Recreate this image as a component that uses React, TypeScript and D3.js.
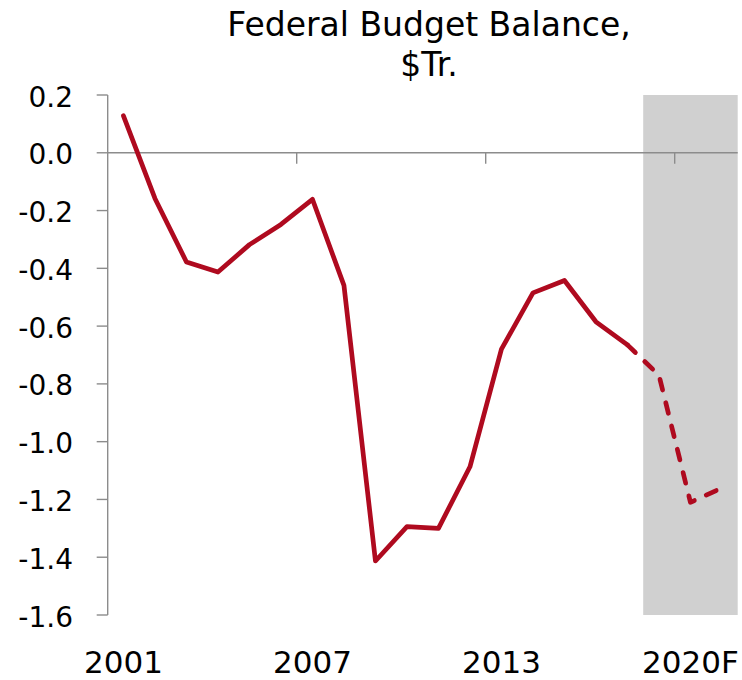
import React from "react";
import * as d3 from "d3";

const categories = [
  "2001", "2002", "2003", "2004", "2005", "2006", "2007", "2008", "2009", "2010",
  "2011", "2012", "2013", "2014", "2015", "2016", "2017", "2018", "2020F", "2021F",
];
const actual: (number | null)[] = [
  0.128, -0.158, -0.378, -0.413, -0.318, -0.248, -0.161, -0.459, -1.413, -1.294,
  -1.3, -1.087, -0.68, -0.485, -0.442, -0.585, -0.665, null, null, null,
];
const forecast: (number | null)[] = [
  null, null, null, null, null, null, null, null, null, null,
  null, null, null, null, null, null, -0.665, -0.77, -1.21, -1.16,
];
const yTicks = [0.2, 0.0, -0.2, -0.4, -0.6, -0.8, -1.0, -1.2, -1.4, -1.6];
const xTickLabels = ["2001", "2007", "2013", "2020F"];
const shadeFrom = "2018";
const titleLines = ["Federal Budget Balance,", "$Tr."];

const W = 742;
const H = 680;
const left = 107.7;
const right = 737.7;
const top = 95;
const bottom = 615;
const font = "'DejaVu Sans', sans-serif";
const red = "#AF0A1F";
const axisColor = "#8C8C8C";

function fmt(v: number) {
  const a = Math.abs(v).toFixed(1);
  return (v < -1e-9 ? "-" : "") + a;
}

export default function App() {
  const x = d3.scaleBand<string>().domain(categories).range([left, right]).padding(0);
  const bw = x.bandwidth();
  const cx = (c: string) => (x(c) as number) + bw / 2;
  const y = d3.scaleLinear().domain([-1.6, 0.2]).range([bottom, top]);

  const line = d3
    .line<{ c: string; v: number | null }>()
    .defined((d) => d.v !== null)
    .x((d) => cx(d.c))
    .y((d) => y(d.v as number));

  const actualPts = categories.map((c, i) => ({ c, v: actual[i] }));
  const forecastPts = categories.map((c, i) => ({ c, v: forecast[i] }));

  const boundaryTicks = categories
    .map((c, i) => ({ c, i }))
    .filter((d) => d.i > 0 && d.i % 6 === 0);

  return (
    <svg
      width={W}
      height={H}
      style={{ position: "absolute", left: 0, top: 0, background: "#fff" }}
    >
      {/* shaded forecast area */}
      <rect
        x={x(shadeFrom) as number}
        y={top}
        width={right - (x(shadeFrom) as number)}
        height={bottom - top}
        fill="#D0D0D0"
      />
      {/* title */}
      {titleLines.map((t, i) => (
        <text
          key={t}
          x={429}
          y={36 + i * 40}
          textAnchor="middle"
          fontFamily={font}
          fontSize={33}
          fill="#000"
        >
          {t}
        </text>
      ))}
      {/* y axis */}
      <line x1={left} x2={left} y1={top} y2={bottom} stroke={axisColor} strokeWidth={1.4} />
      {yTicks.map((t) => (
        <g key={t}>
          <line x1={left - 11} x2={left} y1={y(t)} y2={y(t)} stroke={axisColor} strokeWidth={1.4} />
          <text
            x={73}
            y={y(t) + 11.5}
            textAnchor="end"
            fontFamily={font}
            fontSize={28}
            fill="#000"
          >
            {fmt(t)}
          </text>
        </g>
      ))}
      {/* x axis at zero */}
      <line x1={left} x2={right} y1={y(0)} y2={y(0)} stroke={axisColor} strokeWidth={1.6} />
      {boundaryTicks.map((d) => (
        <line
          key={d.c}
          x1={x(d.c) as number}
          x2={x(d.c) as number}
          y1={y(0)}
          y2={y(0) + 11}
          stroke={axisColor}
          strokeWidth={1.4}
        />
      ))}
      {categories
        .filter((c) => xTickLabels.includes(c))
        .map((c) => (
          <text
            key={c}
            x={cx(c)}
            y={673}
            textAnchor="middle"
            fontFamily={font}
            fontSize={31}
            fill="#000"
          >
            {c}
          </text>
        ))}
      {/* lines */}
      <path
        d={line(actualPts) || ""}
        fill="none"
        stroke={red}
        strokeWidth={4.7}
        strokeLinejoin="round"
        strokeLinecap="round"
      />
      <path
        d={line(forecastPts) || ""}
        fill="none"
        stroke={red}
        strokeWidth={4.7}
        strokeLinejoin="round"
        strokeLinecap="round"
        strokeDasharray="11,13"
      />
    </svg>
  );
}
